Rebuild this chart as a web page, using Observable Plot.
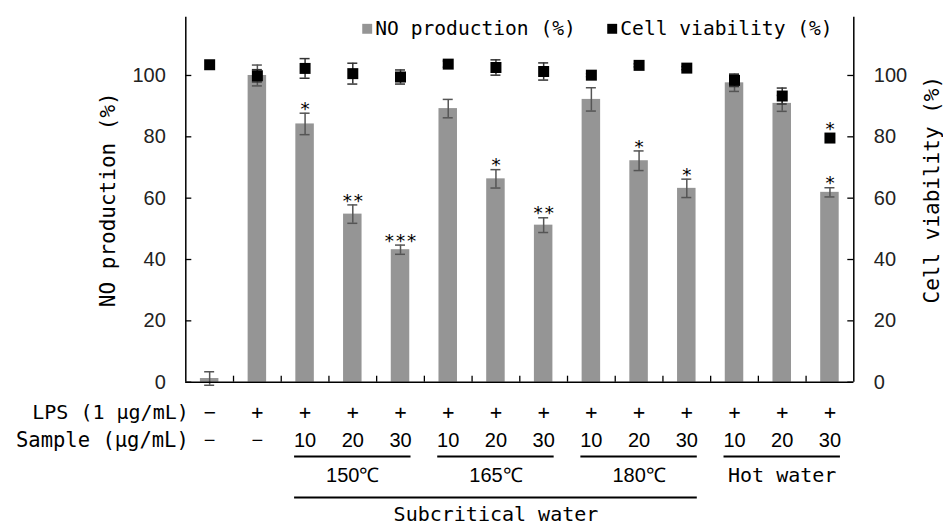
<!DOCTYPE html>
<html><head><meta charset="utf-8">
<script src="https://cdn.jsdelivr.net/npm/d3@7"></script>
<script src="https://cdn.jsdelivr.net/npm/@observablehq/plot@0.6"></script>
<style>html,body{margin:0;padding:0;background:#fff;}</style>
</head><body><div id="chart"></div>
<script>
// ---- data ----
const categories = ["Control","LPS","SW150-10","SW150-20","SW150-30","SW165-10","SW165-20","SW165-30","SW180-10","SW180-20","SW180-30","HW-10","HW-20","HW-30"];
const lpsRow = ["−","+","+","+","+","+","+","+","+","+","+","+","+","+"];
const sampleRow = ["−","−","10","20","30","10","20","30","10","20","30","10","20","30"];
const noProduction = [1.2,100,84.2,54.8,43.2,89.2,66.3,51.2,92.2,72.2,63.2,97.6,90.9,61.9];
const noError = [2.2,3.4,3.5,3.0,1.5,3.0,3.0,2.4,3.8,3.2,3.0,2.8,2.6,1.5];
const viability = [103.5,99.9,102.3,100.6,99.5,103.7,102.6,101.3,100.1,103.3,102.4,98.4,93.3,79.6];
const viabilityError = [0,2.0,3.2,3.4,2.3,1.0,2.5,2.8,0.5,0.5,0.5,2.0,2.6,0];
const noSignif = ["","","*","**","***","","*","**","","*","*","","","*"];
const viabilitySignif = ["","","","","","","","","","","","","","*"];
const groupLabels = ["150℃","165℃","180℃","Hot water"];
const groupStart = [2,5,8,11];
const groupEnd = [4,7,10,13];
const superLabels = ["Subcritical water"];
const superStart = [2];
const superEnd = [10];
const yTicks = [0,20,40,60,80,100];
const legendLabels = ["NO production (%)","Cell viability (%)"];
const yLabelLeft = "NO production (%)";
const yLabelRight = "Cell viability (%)";
const rowLabels = ["LPS (1 μg/mL)","Sample (μg/mL)"];

// ---- table ----
const data = categories.map((c,i)=>({i, c, lps: lpsRow[i], sample: sampleRow[i],
  no: noProduction[i], noErr: noError[i], via: viability[i], viaErr: viabilityError[i],
  noSig: noSignif[i], viaSig: viabilitySignif[i]}));
const groups = groupLabels.map((g,k)=>({label:g, a:groupStart[k], b:groupEnd[k]}));
const supers = superLabels.map((g,k)=>({label:g, a:superStart[k], b:superEnd[k]}));

// ---- layout ----
const W = 943, H = 526;
const ml = 185.3, mr = 89.7, mt = 16.7, mb = 144.3;
const frameW = W - ml - mr, frameH = H - mt - mb;
const bandPx = frameW / categories.length;
const barInset = (bandPx - 18.5) / 2;
const cap = 5 / bandPx;       // half cap width in category units
const ext = 10.5 / bandPx;    // group line overhang in category units
const mono = "DejaVu Sans Mono";
const sans = "Liberation Sans";
const barFill = "#959595";

const plot = Plot.plot({
  width: W, height: H,
  marginLeft: ml, marginRight: mr, marginTop: mt, marginBottom: mb,
  style: {fontFamily: sans, fontSize: "20px", background: "#fff", color: "#000"},
  x: {type: "linear", domain: [0, categories.length], axis: null},
  y: {domain: [0, 119], axis: null},
  marks: [
    // bars
    Plot.rect(data, {x1: d=>d.i, x2: d=>d.i+1, y1: 0, y2: d=>d.no, fill: barFill, insetLeft: barInset, insetRight: barInset}),
    // NO error bars
    Plot.ruleX(data, {x: d=>d.i+0.5, y1: d=>d.no-d.noErr, y2: d=>d.no+d.noErr, stroke: "#555", strokeWidth: 1.5}),
    Plot.ruleY(data, {x1: d=>d.i+0.5-cap, x2: d=>d.i+0.5+cap, y: d=>d.no+d.noErr, stroke: "#555", strokeWidth: 1.5}),
    Plot.ruleY(data, {x1: d=>d.i+0.5-cap, x2: d=>d.i+0.5+cap, y: d=>d.no-d.noErr, stroke: "#555", strokeWidth: 1.5}),
    // viability error bars
    Plot.ruleX(data.filter(d=>d.viaErr>0), {x: d=>d.i+0.5, y1: d=>d.via-d.viaErr, y2: d=>d.via+d.viaErr, stroke: "#333", strokeWidth: 1.5}),
    Plot.ruleY(data.filter(d=>d.viaErr>0), {x1: d=>d.i+0.5-cap, x2: d=>d.i+0.5+cap, y: d=>d.via+d.viaErr, stroke: "#333", strokeWidth: 1.5}),
    Plot.ruleY(data.filter(d=>d.viaErr>0), {x1: d=>d.i+0.5-cap, x2: d=>d.i+0.5+cap, y: d=>d.via-d.viaErr, stroke: "#333", strokeWidth: 1.5}),
    // viability squares
    Plot.dot(data, {x: d=>d.i+0.5, y: "via", symbol: "square", r: 6.2, fill: "#000", stroke: "none"}),
    // significance stars
    Plot.text(data, {x: d=>d.i+0.5, y: d=>d.no+d.noErr, text: "noSig", lineAnchor: "bottom", dy: 1.6, fontFamily: mono, fontSize: 18.5, fill: "#000"}),
    Plot.text(data, {x: d=>d.i+0.5, y: "via", text: "viaSig", lineAnchor: "bottom", dy: -3.4, fontFamily: mono, fontSize: 18.5, fill: "#000"}),
    // axis lines
    Plot.ruleX([0, categories.length], {x: d=>d, stroke: "#000", strokeWidth: 1.5}),
    Plot.ruleY([0], {y: d=>d, stroke: "#000", strokeWidth: 1.5}),
    // inward ticks
    Plot.tickY(yTicks, {y: d=>d, insetRight: frameW - 6, stroke: "#000", strokeWidth: 1.3}),
    Plot.tickY(yTicks, {y: d=>d, insetLeft: frameW - 6, stroke: "#000", strokeWidth: 1.3}),
    Plot.tickX(d3.range(1, categories.length), {x: d=>d, insetTop: frameH - 6, stroke: "#000", strokeWidth: 1.3}),
    // tick labels
    Plot.text(yTicks, {y: d=>d, text: d=>String(d), frameAnchor: "left", textAnchor: "end", dx: -20, fontSize: 20, fill: "#222"}),
    Plot.text(yTicks, {y: d=>d, text: d=>String(d), frameAnchor: "right", textAnchor: "start", dx: 20, fontSize: 20, fill: "#222"}),
    // axis titles
    Plot.text([yLabelLeft], {text: d=>d, frameAnchor: "left", textAnchor: "middle", lineAnchor: "middle", rotate: -90, dx: -78, fontFamily: mono, fontSize: 21, fill: "#000"}),
    Plot.text([yLabelRight], {text: d=>d, frameAnchor: "right", textAnchor: "middle", lineAnchor: "middle", rotate: -90, dx: 78, dy: -10, fontFamily: mono, fontSize: 21, fill: "#000"}),
    // legend
    Plot.dot([0], {frameAnchor: "top-left", dx: 181.4, dy: 11.6, symbol: "square", r: 5.6, fill: barFill}),
    Plot.text([legendLabels[0]], {text: d=>d, frameAnchor: "top-left", dx: 189.5, dy: 11.6, textAnchor: "start", lineAnchor: "middle", fontFamily: mono, fontSize: 19.6, fill: "#000"}),
    Plot.dot([0], {frameAnchor: "top-left", dx: 426.4, dy: 11.6, symbol: "square", r: 5.6, fill: "#000"}),
    Plot.text([legendLabels[1]], {text: d=>d, frameAnchor: "top-left", dx: 434.5, dy: 11.6, textAnchor: "start", lineAnchor: "middle", fontFamily: mono, fontSize: 19.6, fill: "#000"}),
    // bottom table rows
    Plot.text([rowLabels[0]], {x: 0, text: d=>d, frameAnchor: "bottom", textAnchor: "end", lineAnchor: "middle", dx: 3, dy: 30.5, fontFamily: mono, fontSize: 20, fill: "#000"}),
    Plot.text([rowLabels[1]], {x: 0, text: d=>d, frameAnchor: "bottom", textAnchor: "end", lineAnchor: "middle", dx: 3, dy: 58.5, fontFamily: mono, fontSize: 20.5, fill: "#000"}),
    Plot.text(data, {x: d=>d.i+0.5, text: "lps", frameAnchor: "bottom", lineAnchor: "middle", dy: 30.5, fontFamily: mono, fontSize: 20, fill: "#000"}),
    Plot.text(data, {x: d=>d.i+0.5, text: "sample", frameAnchor: "bottom", lineAnchor: "middle", dy: 58.5, fontSize: 20, fill: "#000"}),
    // group lines and labels
    Plot.ruleY(groups, {x1: d=>d.a+0.5-ext, x2: d=>d.b+0.5+ext, y: 0, dy: 74.3, stroke: "#000", strokeWidth: 2}),
    Plot.text(groups.filter(g=>g.label.includes("℃")), {x: d=>(d.a+d.b)/2+0.5, text: "label", frameAnchor: "bottom", lineAnchor: "middle", dy: 93.5, fontSize: 20, fill: "#000"}),
    Plot.text(groups.filter(g=>!g.label.includes("℃")), {x: d=>(d.a+d.b)/2+0.5, text: "label", frameAnchor: "bottom", lineAnchor: "middle", dy: 93.5, fontFamily: mono, fontSize: 20, fill: "#000"}),
    Plot.ruleY(supers, {x1: d=>d.a+0.5-ext, x2: d=>d.b+0.5+ext, y: 0, dy: 115.3, stroke: "#000", strokeWidth: 2}),
    Plot.text(supers, {x: d=>(d.a+d.b)/2+0.5, text: "label", frameAnchor: "bottom", lineAnchor: "middle", dy: 132.5, fontFamily: mono, fontSize: 20, fill: "#000"})
  ]
});
document.getElementById("chart").appendChild(plot);
</script>
</body></html>
